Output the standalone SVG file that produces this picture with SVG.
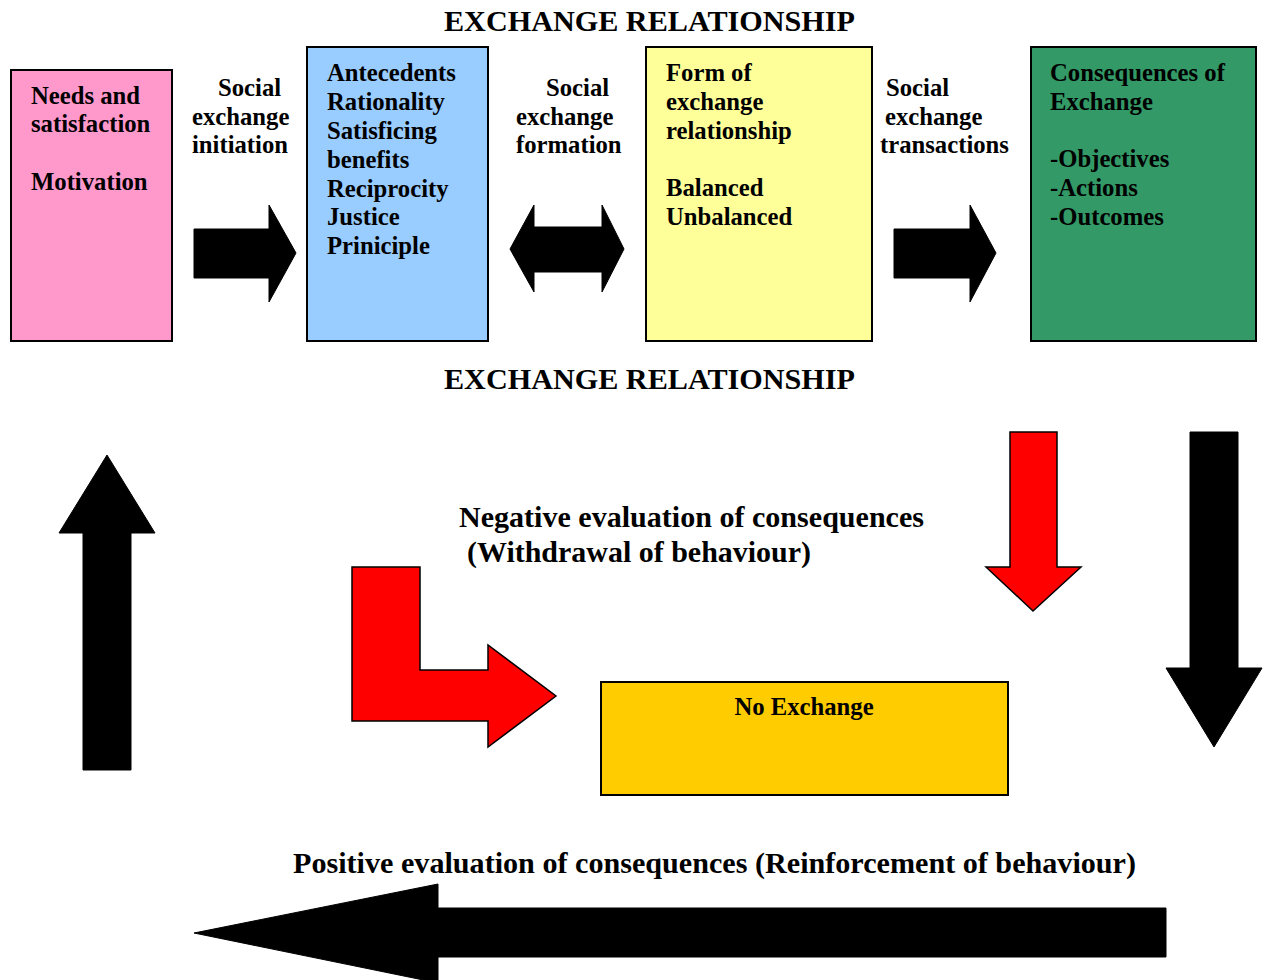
<svg xmlns="http://www.w3.org/2000/svg" width="1266" height="980" viewBox="0 0 1266 980">
<style>
text{font-family:"Liberation Serif","Times New Roman",serif;font-weight:bold;fill:#000}
.t{font-size:24.7px}
.h{font-size:29px}
.box{stroke:#000;stroke-width:2}
.blk{fill:#000;stroke:#000;stroke-width:1}
.red{fill:#FF0000;stroke:#000;stroke-width:1.5}
</style>
<rect width="1266" height="980" fill="#fff"/>
<text class="h" x="444" y="31" textLength="411" lengthAdjust="spacingAndGlyphs">EXCHANGE RELATIONSHIP</text>
<text class="h" x="444" y="389" textLength="411" lengthAdjust="spacingAndGlyphs">EXCHANGE RELATIONSHIP</text>

<g id="needs">
<rect class="box" x="11" y="70" width="161" height="271" fill="#FF99CC"/>
<text class="t" x="31" y="104">Needs and</text>
<text class="t" x="31" y="132">satisfaction</text>
<text class="t" x="31" y="190">Motivation</text>
</g>
<g id="antecedents">
<rect class="box" x="307" y="47" width="181" height="294" fill="#99CCFF"/>
<text class="t" x="327" y="81">Antecedents</text>
<text class="t" x="327" y="110">Rationality</text>
<text class="t" x="327" y="139">Satisficing</text>
<text class="t" x="327" y="168">benefits</text>
<text class="t" x="327" y="197">Reciprocity</text>
<text class="t" x="327" y="225">Justice</text>
<text class="t" x="327" y="254">Priniciple</text>
</g>
<g id="form">
<rect class="box" x="646" y="47" width="226" height="294" fill="#FFFF99"/>
<text class="t" x="666" y="81">Form of</text>
<text class="t" x="666" y="110">exchange</text>
<text class="t" x="666" y="139">relationship</text>
<text class="t" x="666" y="196">Balanced</text>
<text class="t" x="666" y="225">Unbalanced</text>
</g>
<g id="consequences">
<rect class="box" x="1031" y="47" width="225" height="294" fill="#339966"/>
<text class="t" x="1050" y="81">Consequences of</text>
<text class="t" x="1050" y="110">Exchange</text>
<text class="t" x="1050" y="167">-Objectives</text>
<text class="t" x="1050" y="196">-Actions</text>
<text class="t" x="1050" y="225">-Outcomes</text>
</g>
<g id="noexchange">
<rect class="box" x="601" y="682" width="407" height="113" fill="#FFCC00"/>
<text class="t" x="804" y="715" text-anchor="middle">No Exchange</text>
</g>

<g id="connectors">
<polygon class="blk" points="194,229 269,229 269,205 296,253 269,302 269,278 194,278"/>
<polygon class="blk" points="510,249 534,205 534,227 602,227 602,205 624,249 602,292 602,272 534,272 534,292"/>
<polygon class="blk" points="894,229 970,229 970,205 996,253 970,302 970,278 894,278"/>
<polygon class="blk" points="107,455 155,533 131,533 131,770 83,770 83,533 59,533"/>
<polygon class="red" points="1010,432 1057,432 1057,567 1081,567 1033,611 986,567 1010,567"/>
<polygon class="blk" points="1190,432 1238,432 1238,668 1262,668 1214,747 1166,668 1190,668"/>
<polygon class="red" points="352,567 420,567 420,670 488,670 488,645 556,696 488,747 488,721 352,721"/>
<polygon class="blk" points="1166,908 1166,957 438,957 438,983 194,933 438,884 438,908"/>
</g>

<g id="labels">
<text class="t" x="218" y="96">Social</text>
<text class="t" x="192" y="125">exchange</text>
<text class="t" x="192" y="153">initiation</text>
<text class="t" x="546" y="96">Social</text>
<text class="t" x="516" y="125">exchange</text>
<text class="t" x="516" y="153">formation</text>
<text class="t" x="886" y="96">Social</text>
<text class="t" x="885" y="125">exchange</text>
<text class="t" x="880" y="153">transactions</text>
<text class="h" x="459" y="527" textLength="465" lengthAdjust="spacingAndGlyphs">Negative evaluation of consequences</text>
<text class="h" x="467" y="562" textLength="344" lengthAdjust="spacingAndGlyphs">(Withdrawal of behaviour)</text>
<text class="h" x="293" y="873" textLength="843" lengthAdjust="spacingAndGlyphs">Positive evaluation of consequences (Reinforcement of behaviour)</text>
</g>
</svg>
